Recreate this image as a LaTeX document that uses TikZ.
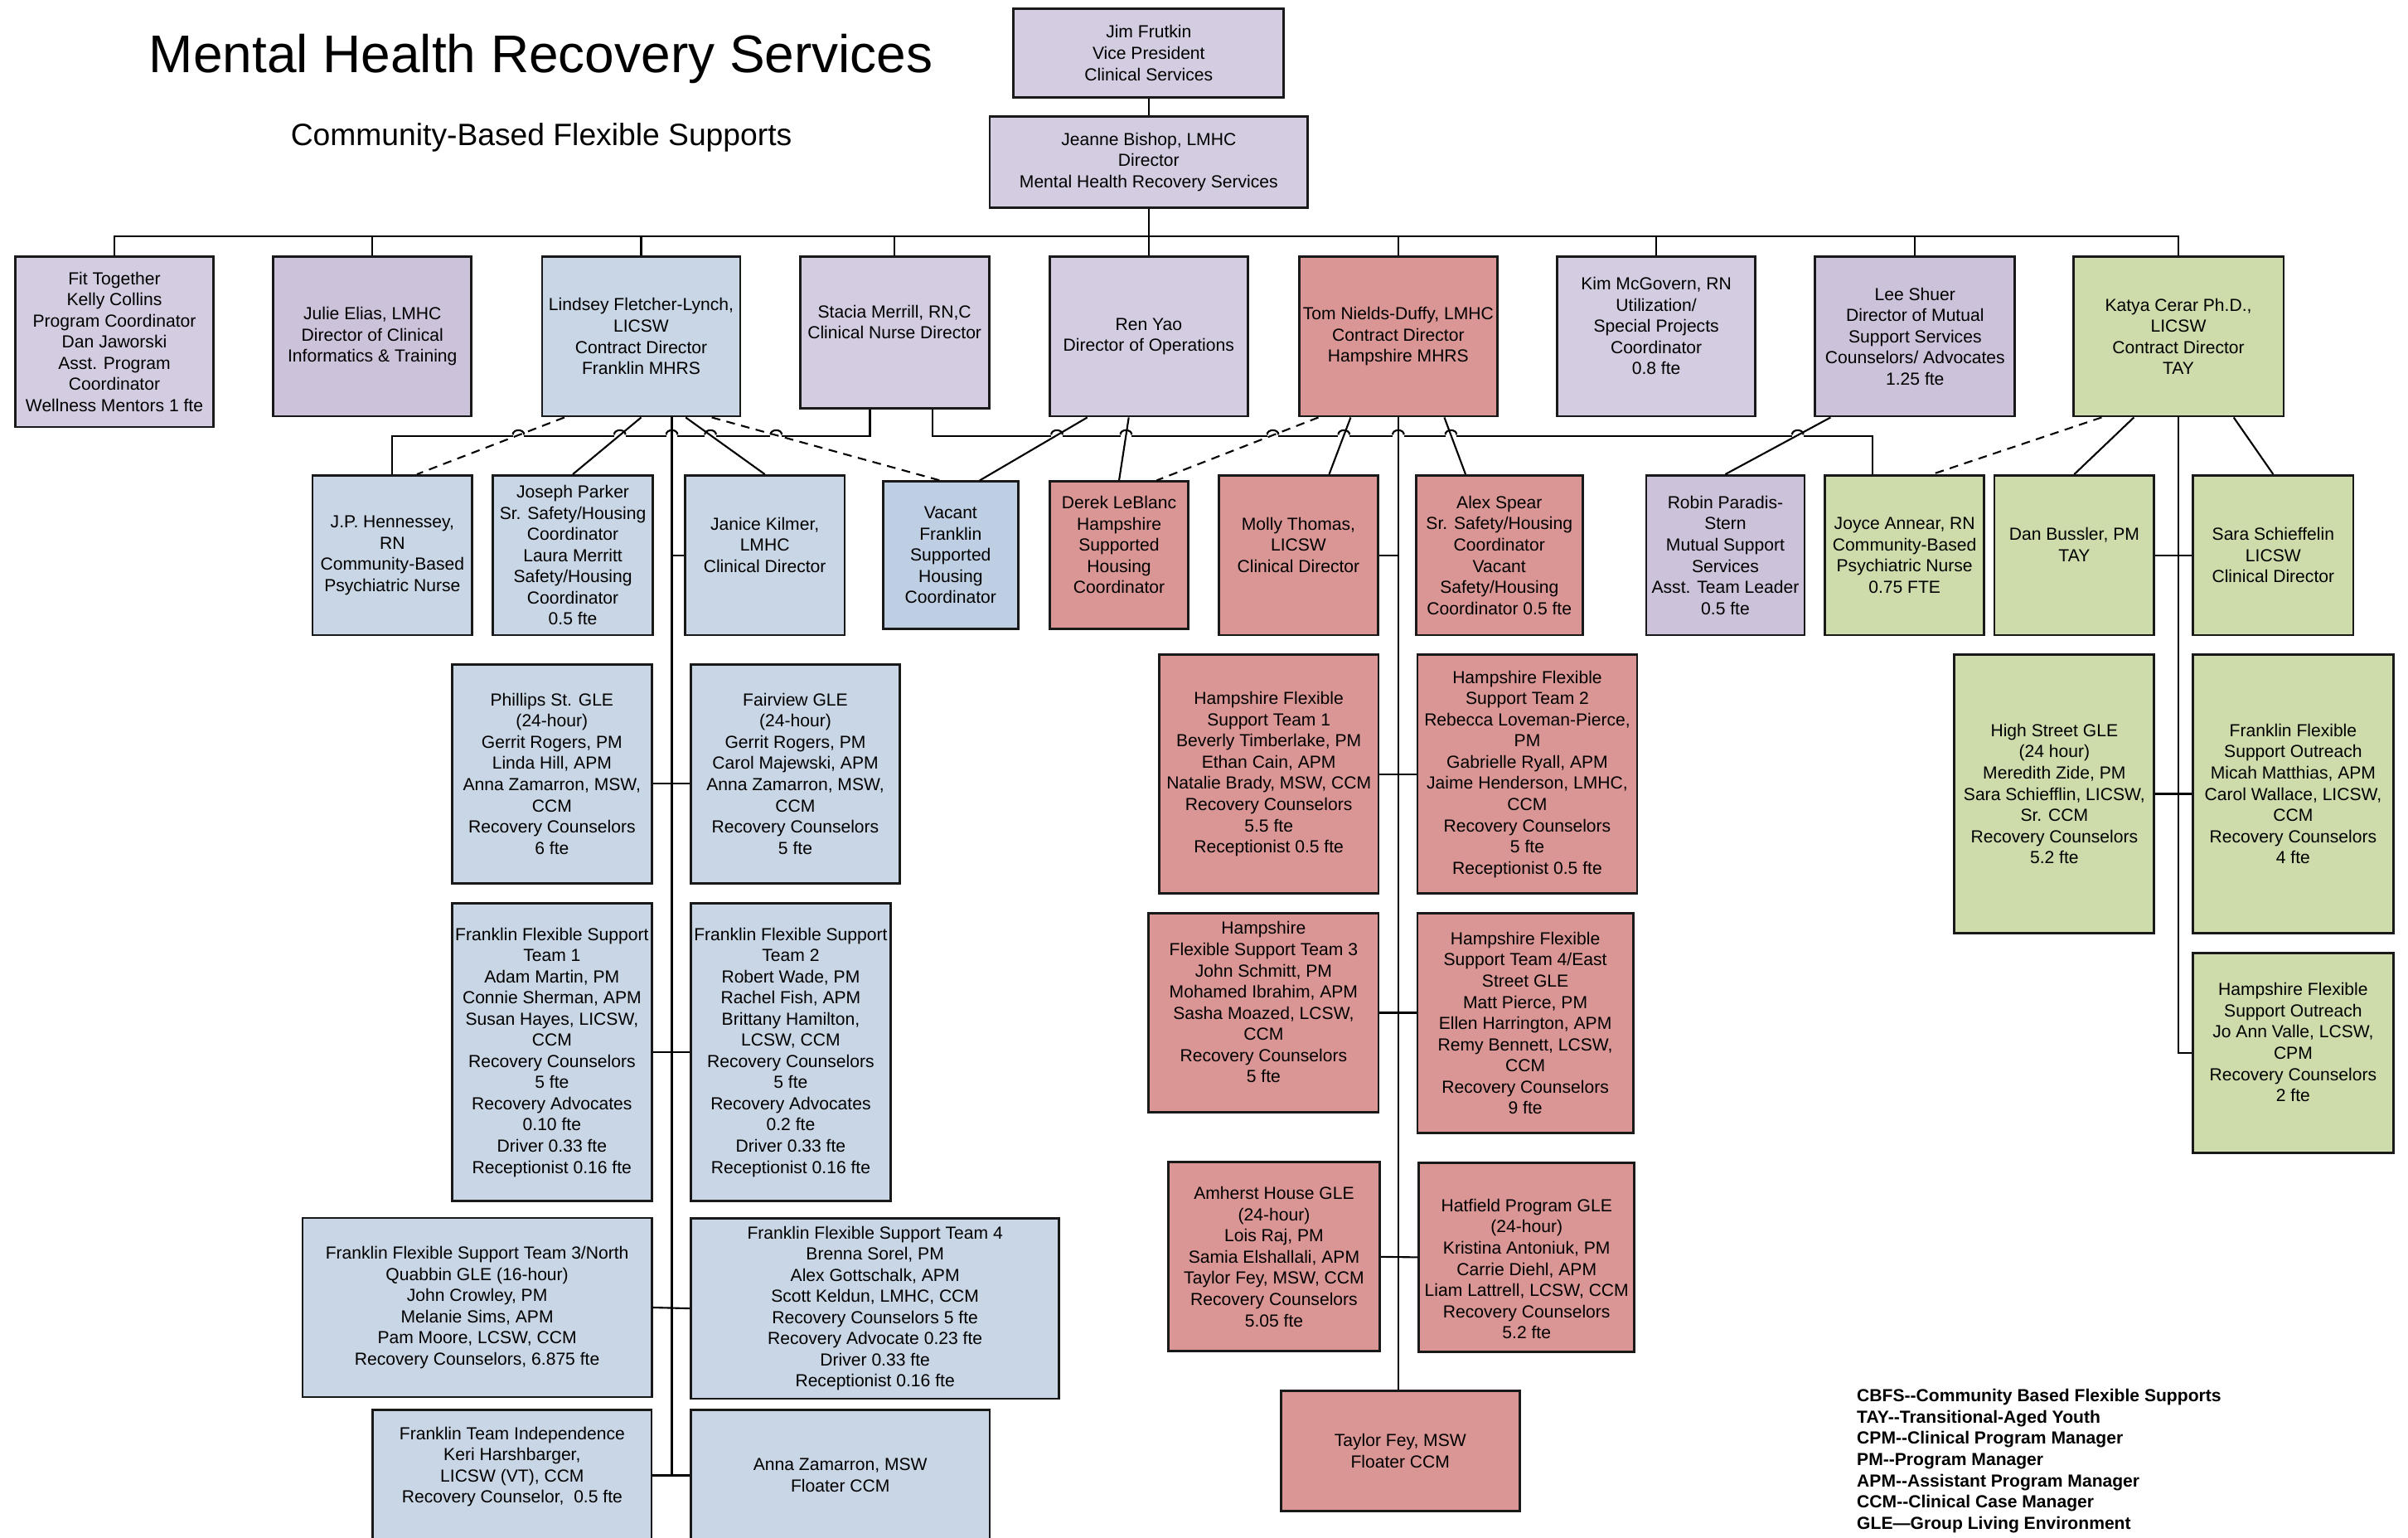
\documentclass[tikz,border=0pt]{standalone}
\usepackage{fontspec}
\setmainfont{Liberation Sans}
\usetikzlibrary{calc}

\definecolor{lavA}{RGB}{212,204,225}
\definecolor{lavB}{RGB}{204,194,218}
\definecolor{frblue}{RGB}{201,214,229}
\definecolor{vacblue}{RGB}{190,207,227}
\definecolor{hampred}{RGB}{218,150,148}
\definecolor{taygreen}{RGB}{205,220,170}

\tikzset{
  box/.style={draw=black!90, line width=0.8pt, rectangle, align=center, inner sep=0.3pt,
    font=\fontsize{6}{7.27}\selectfont},
  wh/.style 2 args={minimum width=#1*0.52715pt, minimum height=#2*0.52715pt},
  lavbox/.style={box, fill=lavA},
  lavdark/.style={box, fill=lavB},
  frbox/.style={box, fill=frblue},
  vacbox/.style={box, fill=vacblue},
  hambox/.style={box, fill=hampred},
  taybox/.style={box, fill=taygreen},
  conn/.style={line width=0.6pt, black},
  dashlink/.style={conn, dash pattern=on 3pt off 2.2pt},
  abbrtext/.style={align=left, inner sep=0pt, font=\fontsize{6}{7.27}\selectfont\bfseries}
}

% line jump over the horizontal at y=283
\newcommand{\hop}[1]{%
  \fill[white] (#1-3.7,281) rectangle (#1+3.7,285);
  \draw[conn] (#1-3.7,283) .. controls (#1-3.7,279.1) and (#1+3.7,279.1) .. (#1+3.7,283);}

\begin{document}
\begin{tikzpicture}[x=0.52715pt, y=-0.52715pt]
    \useasboundingbox (0,0) rectangle (1568,1001);
    \clip (0,0) rectangle (1568,1001);

    % titles
    \node[anchor=base, font=\fontsize{18.2}{22}\selectfont] (title) at (352.3,47.4) {Mental Health Recovery Services};
    \node[anchor=base, font=\fontsize{10.6}{13}\selectfont] (subtitle) at (352.5,94.8) {Community-Based Flexible Supports};

    % top
    \node[lavbox, wh={176}{58}] (vp) at (748,34.5) {Jim Frutkin\\Vice President\\Clinical Services};
    \node[lavbox, wh={207}{59}] (dir) at (748,105.5) {Jeanne Bishop, LMHC\\Director\\Mental Health Recovery Services};

    % row 1
    \node[lavbox, wh={129}{111}] (fit) at (74.5,222.5) {Fit Together\\Kelly Collins\\Program Coordinator\\Dan Jaworski\\Asst. Program\\Coordinator\\Wellness Mentors 1 fte};
    \node[lavdark, wh={129}{104}] (julie) at (242.5,219) {Julie Elias, LMHC\\Director of Clinical\\Informatics \& Training};
    \node[frbox, wh={129}{104}] (lind) at (417.5,219) {Lindsey Fletcher-Lynch,\\LICSW\\Contract Director\\Franklin MHRS};
    \node[lavbox, wh={123}{99}] (stacia) at (582.5,216.5) {Stacia Merrill, RN,C\\Clinical Nurse Director\\\mbox{}};
    \node[lavbox, wh={129}{104}] (ren) at (748,219) {Ren Yao\\Director of Operations};
    \node[hambox, wh={129}{104}] (tom) at (910.5,219) {Tom Nields-Duffy, LMHC\\Contract Director\\Hampshire MHRS};
    \node[lavbox, wh={129}{104}] (kim) at (1078.5,219) {Kim McGovern, RN\\Utilization/\\Special Projects\\Coordinator\\0.8 fte\\\mbox{}};
    \node[lavdark, wh={130}{104}] (lee) at (1247,219) {Lee Shuer\\Director of Mutual\\Support Services\\Counselors/ Advocates\\1.25 fte};
    \node[taybox, wh={137}{104}] (kat) at (1418.5,219) {Katya Cerar Ph.D.,\\LICSW\\Contract Director\\TAY};

    % row 2
    \node[frbox, wh={104}{104}] (jph) at (255.5,361.5) {J.P. Hennessey,\\RN\\Community-Based\\Psychiatric Nurse};
    \node[frbox, wh={104}{104}] (jos) at (373,361.5) {Joseph Parker\\Sr. Safety/Housing\\Coordinator\\Laura Merritt\\Safety/Housing\\Coordinator\\0.5 fte};
    \node[frbox, wh={104}{104}] (jan) at (498,361.5) {Janice Kilmer,\\LMHC\\Clinical Director\\\mbox{}};
    \node[vacbox, wh={88}{96}] (vac) at (619,361.5) {Vacant\\Franklin\\Supported\\Housing\\Coordinator};
    \node[hambox, wh={90.5}{96}] (der) at (728.7,361.5) {Derek LeBlanc\\Hampshire\\Supported\\Housing\\Coordinator\\\mbox{}};
    \node[hambox, wh={104}{104}] (mol) at (845.5,361.5) {Molly Thomas,\\LICSW\\Clinical Director\\\mbox{}};
    \node[hambox, wh={108.6}{104}] (alex) at (976.3,361.5) {Alex Spear\\Sr. Safety/Housing\\Coordinator\\Vacant\\Safety/Housing\\Coordinator 0.5 fte};
    \node[lavdark, wh={103}{104}] (rob) at (1123.5,361.5) {Robin Paradis-\\Stern\\Mutual Support\\Services\\Asst. Team Leader\\0.5 fte};
    \node[taybox, wh={103.5}{104}] (joy) at (1240.2,361.5) {Joyce Annear, RN\\Community-Based\\Psychiatric Nurse\\0.75 FTE};
    \node[taybox, wh={104}{104}] (dan) at (1350.7,361.5) {Dan Bussler, PM\\TAY\\\mbox{}};
    \node[taybox, wh={104.4}{104}] (sara) at (1480.2,361.5) {Sara Schieffelin\\LICSW\\Clinical Director};

    % Franklin
    \node[frbox, wh={129.8}{142.5}] (phil) at (359.4,503.7) {Phillips St. GLE\\(24-hour)\\Gerrit Rogers, PM\\Linda Hill, APM\\Anna Zamarron, MSW,\\CCM\\Recovery Counselors\\6 fte};
    \node[frbox, wh={135.8}{142.5}] (fair) at (517.9,503.7) {Fairview GLE\\(24-hour)\\Gerrit Rogers, PM\\Carol Majewski, APM\\Anna Zamarron, MSW,\\CCM\\Recovery Counselors\\5 fte};
    \node[frbox, wh={129.8}{194}] (ft1) at (359.4,685) {Franklin Flexible Support\\Team 1\\Adam Martin, PM\\Connie Sherman, APM\\Susan Hayes, LICSW,\\CCM\\Recovery Counselors\\5 fte\\Recovery Advocates\\0.10 fte\\Driver 0.33 fte\\Receptionist 0.16 fte};
    \node[frbox, wh={129.8}{194}] (ft2) at (514.9,685) {Franklin Flexible Support\\Team 2\\Robert Wade, PM\\Rachel Fish, APM\\Brittany Hamilton,\\LCSW, CCM\\Recovery Counselors\\5 fte\\Recovery Advocates\\0.2 fte\\Driver 0.33 fte\\Receptionist 0.16 fte};
    \node[frbox, wh={227.3}{116.5}] (ft3) at (310.7,851.2) {Franklin Flexible Support Team 3/North\\Quabbin GLE (16-hour)\\John Crowley, PM\\Melanie Sims, APM\\Pam Moore, LCSW, CCM\\Recovery Counselors, 6.875 fte};
    \node[frbox, wh={239.6}{117.6}] (ft4) at (569.8,851.8) {Franklin Flexible Support Team 4\\Brenna Sorel, PM\\Alex Gottschalk, APM\\Scott Keldun, LMHC, CCM\\Recovery Counselors 5 fte\\Recovery Advocate 0.23 fte\\Driver 0.33 fte\\Receptionist 0.16 fte};
    \node[frbox, wh={181.5}{85}] (indep) at (333.5,960.5) {Franklin Team Independence\\Keri Harshbarger,\\LICSW (VT), CCM\\Recovery Counselor,\ \ 0.5 fte\\\mbox{}};
    \node[frbox, wh={194.5}{85}] (anna) at (547.2,960.5) {Anna Zamarron, MSW\\Floater CCM};

    % Hampshire
    \node[hambox, wh={142.9}{155.6}] (ht1) at (826.2,504) {Hampshire Flexible\\Support Team 1\\Beverly Timberlake, PM\\Ethan Cain, APM\\Natalie Brady, MSW, CCM\\Recovery Counselors\\5.5 fte\\Receptionist 0.5 fte};
    \node[hambox, wh={143}{155.6}] (ht2) at (994.5,504) {Hampshire Flexible\\Support Team 2\\Rebecca Loveman-Pierce,\\PM\\Gabrielle Ryall, APM\\Jaime Henderson, LMHC,\\CCM\\Recovery Counselors\\5 fte\\Receptionist 0.5 fte};
    \node[hambox, wh={149.6}{129.3}] (ht3) at (822.8,659.3) {Hampshire\\Flexible Support Team 3\\John Schmitt, PM\\Mohamed Ibrahim, APM\\Sasha Moazed, LCSW,\\CCM\\Recovery Counselors\\5 fte\\\mbox{}};
    \node[hambox, wh={140.5}{142.8}] (ht4) at (993.2,666.1) {Hampshire Flexible\\Support Team 4/East\\Street GLE\\Matt Pierce, PM\\Ellen Harrington, APM\\Remy Bennett, LCSW,\\CCM\\Recovery Counselors\\9 fte};
    \node[hambox, wh={137.8}{123.1}] (amh) at (829.6,818.2) {Amherst House GLE\\(24-hour)\\Lois Raj, PM\\Samia Elshallali, APM\\Taylor Fey, MSW, CCM\\Recovery Counselors\\5.05 fte};
    \node[hambox, wh={140.3}{123}] (hat) at (994.1,818.5) {\strut\\Hatfield Program GLE\\(24-hour)\\Kristina Antoniuk, PM\\Carrie Diehl, APM\\Liam Lattrell, LCSW, CCM\\Recovery Counselors\\5.2 fte};
    \node[hambox, wh={155.6}{78.3}] (flo) at (911.8,944.5) {Taylor Fey, MSW\\Floater CCM};

    % TAY
    \node[taybox, wh={130.1}{181.6}] (high) at (1337.7,516.8) {High Street GLE\\(24 hour)\\Meredith Zide, PM\\Sara Schiefflin, LICSW,\\Sr. CCM\\Recovery Counselors\\5.2 fte};
    \node[taybox, wh={130.4}{181.6}] (fout) at (1493.2,516.8) {Franklin Flexible\\Support Outreach\\Micah Matthias, APM\\Carol Wallace, LICSW,\\CCM\\Recovery Counselors\\4 fte};
    \node[taybox, wh={130.4}{129.9}] (hout) at (1493.2,685.4) {Hampshire Flexible\\Support Outreach\\Jo Ann Valle, LCSW,\\CPM\\Recovery Counselors\\2 fte\\\mbox{}};

    % abbreviations
    \node[abbrtext, anchor=north west] (abbr) at (1208.8,904) {CBFS-{}-Community Based Flexible Supports\\TAY-{}-Transitional-Aged Youth\\CPM-{}-Clinical Program Manager\\PM-{}-Program Manager\\APM-{}-Assistant Program Manager\\CCM-{}-Clinical Case Manager\\GLE—Group Living Environment};

    % top of the tree
    \coordinate (bus) at ($(dir.south)+(0,18)$);
    \draw[conn] (vp.south) -- (dir.north);
    \draw[conn] (dir.south) -- (ren.north);
    \draw[conn] (fit.north) |- (bus) -| (kat.north);
    \draw[conn] (julie.north) -- (julie.north |- bus);
    \draw[conn] (lind.north) -- (lind.north |- bus);
    \draw[conn] (stacia.north) -- (stacia.north |- bus);
    \draw[conn] (tom.north) -- (tom.north |- bus);
    \draw[conn] (kim.north) -- (kim.north |- bus);
    \draw[conn] (lee.north) -- (lee.north |- bus);

    % nurse director lines
    \draw[conn] ($(stacia.south)+(-16,0)$) -- ++(0,17) -| (jph.north);
    \draw[conn] ($(stacia.south)+(24.5,0)$) -- ++(0,17) -| ($(joy.north)+(-21,0)$);
    \hop{337.6} \hop{403.6} \hop{437.5} \hop{462.6} \hop{505.4}
    \hop{688.2} \hop{733.2} \hop{828.8} \hop{875.1} \hop{910.5} \hop{944.8} \hop{1170.6}

    % Franklin
    \coordinate (fsp) at ($(lind.south)+(20,0)$);
    \draw[dashlink] ($(lind.south)+(-50,0)$) -- ($(jph.north)+(16,0)$);
    \draw[conn] (lind.south) -- (jos.north);
    \draw[conn] ($(lind.south)+(29,0)$) -- (jan.north);
    \draw[dashlink] ($(lind.south)+(46,0)$) -- ($(vac.north)+(-7,0)$);
    \draw[conn] (fsp) -- (fsp |- indep.east);
    \draw[conn] (jan.west) -- (jan.west -| fsp);
    \draw[conn] ($(phil.east)+(0,6.5)$) -- ($(fair.west)+(0,6.5)$);
    \draw[conn] (ft1.east) -- (ft2.west);
    \draw[conn] (ft3.east) -- (ft4.west);
    \draw[conn] (indep.east) -- (anna.west);

    % operations
    \draw[conn] ($(ren.south)+(-40,0)$) -- ($(vac.north)+(19,0)$);
    \draw[conn] ($(ren.south)+(-13,0)$) -- (der.north);

    % Hampshire
    \draw[dashlink] ($(tom.south)+(-52,0)$) -- ($(der.north)+(24.5,0)$);
    \draw[conn] ($(tom.south)+(-31,0)$) -- ($(mol.north)+(20,0)$);
    \draw[conn] ($(tom.south)+(30,0)$) -- ($(alex.north)+(-22,0)$);
    \draw[conn] (tom.south) -- (tom.south |- flo.north);
    \draw[conn] (mol.east) -- (mol.east -| tom.south);
    \draw[conn] (ht1.east) -- (ht2.west);
    \draw[conn] (ht3.east) -- (ht3.east -| ht4.west);
    \draw[conn] (amh.east) -- (hat.west);

    % mutual support
    \draw[conn] ($(lee.south)+(-55,0)$) -- (rob.north);

    % TAY
    \draw[dashlink] ($(kat.south)+(-50,0)$) -- ($(joy.north)+(18,0)$);
    \draw[conn] ($(kat.south)+(-29,0)$) -- (dan.north);
    \draw[conn] ($(kat.south)+(36,0)$) -- (sara.north);
    \draw[conn] (kat.south) |- (hout.west);
    \draw[conn] (dan.east) -- (sara.west);
    \draw[conn] (high.east) -- (fout.west);
\end{tikzpicture}
\end{document}
